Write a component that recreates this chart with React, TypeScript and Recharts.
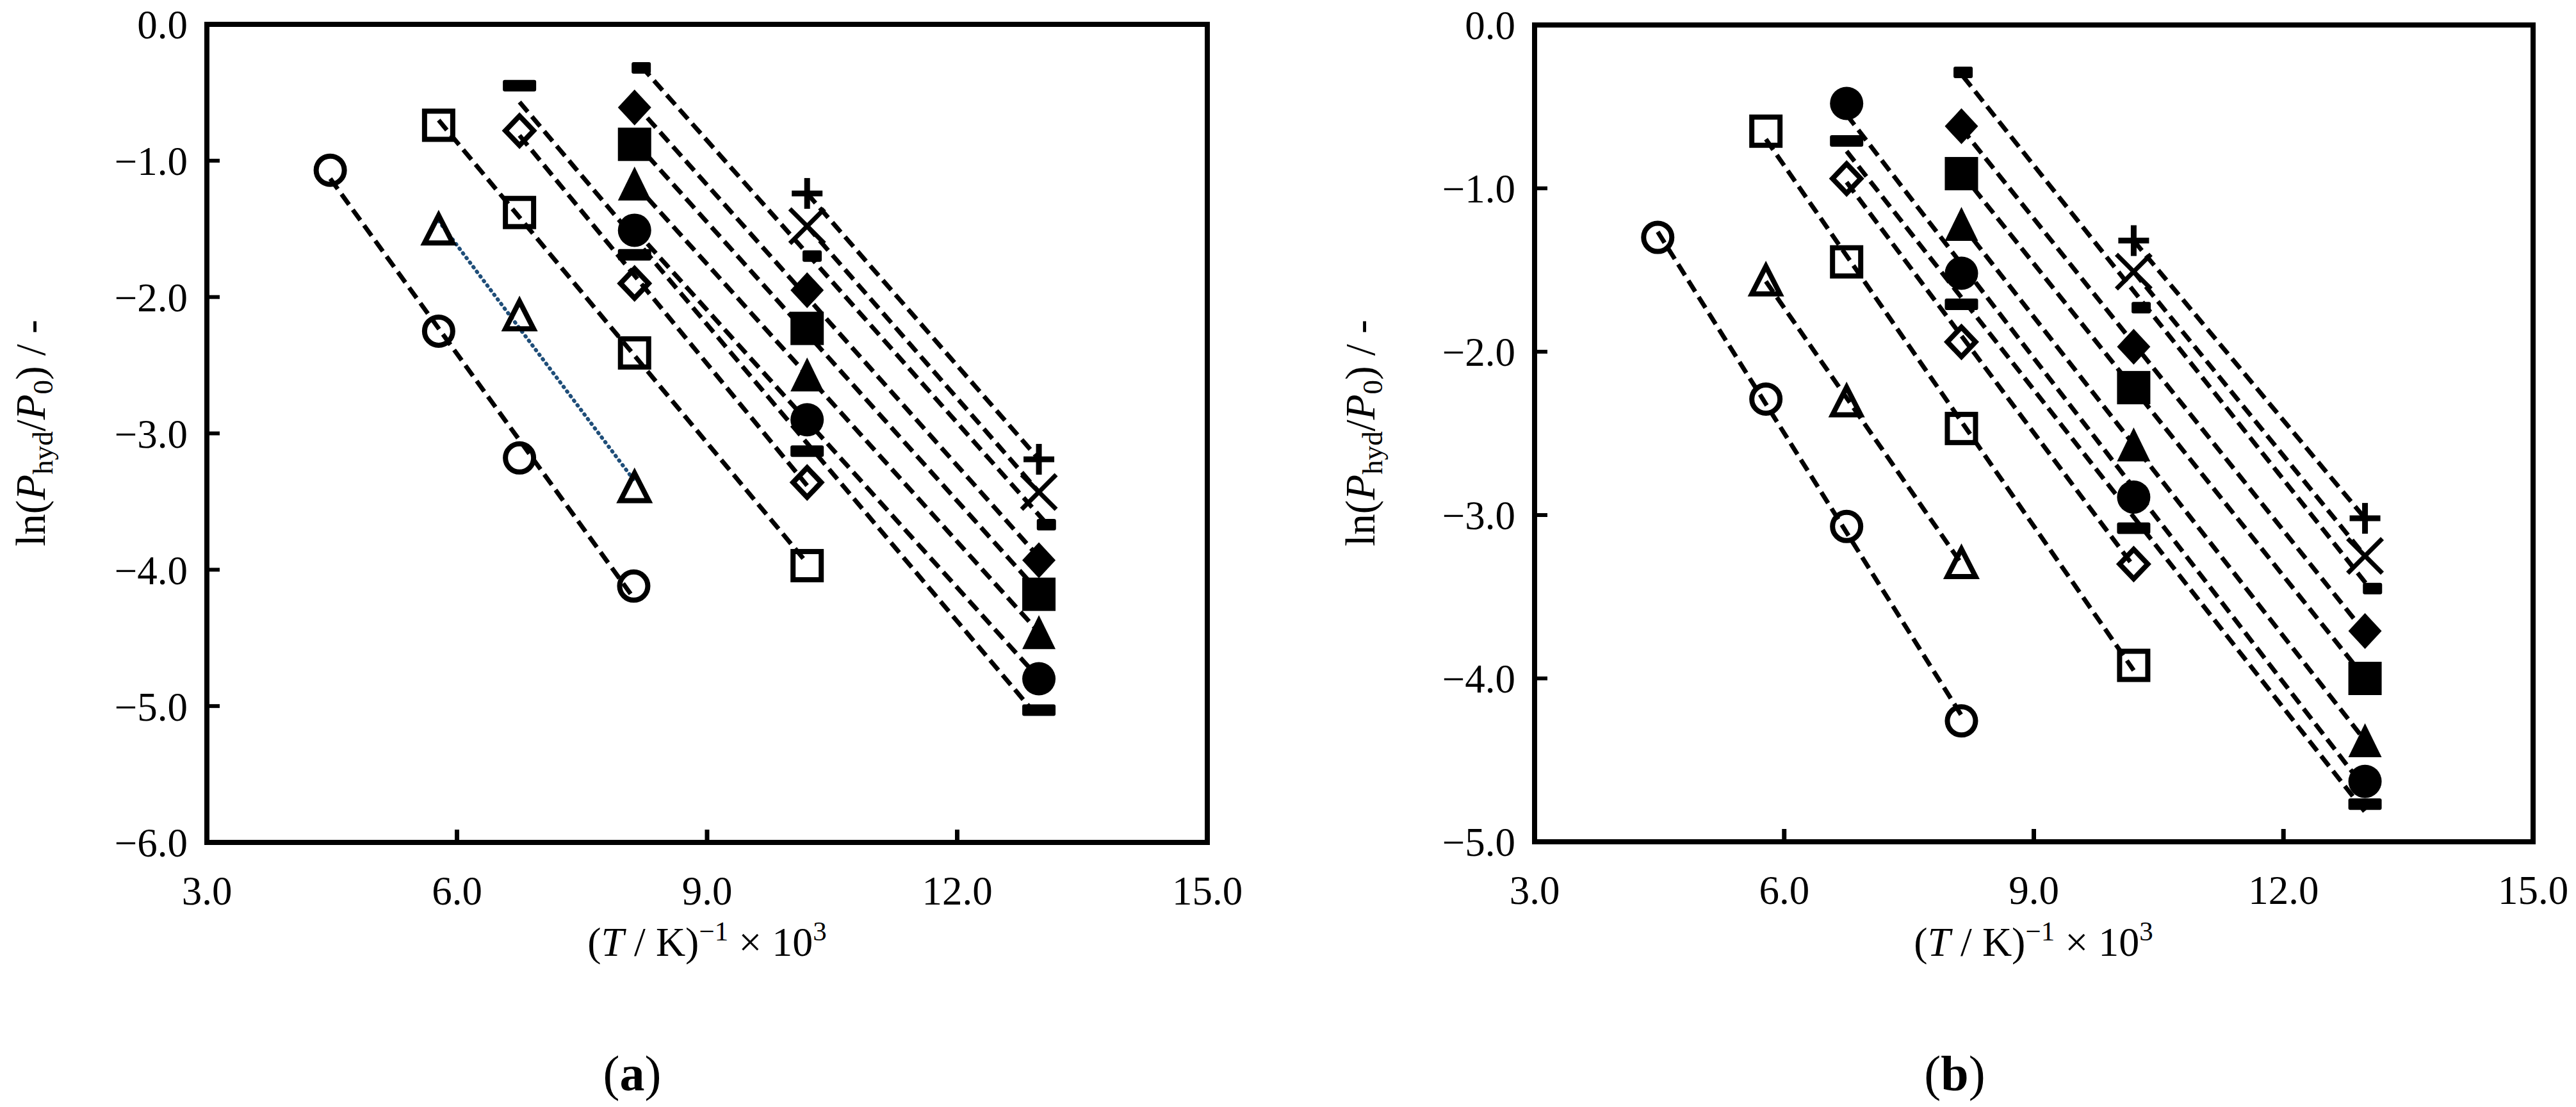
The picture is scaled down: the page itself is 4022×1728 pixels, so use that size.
import React from 'react';
import { ScatterChart, Scatter, XAxis, YAxis, ReferenceArea } from 'recharts';

// ---------- Panel (a) data: [x = (T/K)^-1 x 10^3, y = ln(Phyd/P0)] ----------
const A_openCircle = [[4.48, -1.07], [5.78, -2.25], [6.75, -3.18], [8.12, -4.12]];
const A_openTriangle = [[5.78, -1.5], [6.75, -2.13], [8.13, -3.39]];
const A_openSquare = [[5.78, -0.74], [6.75, -1.38], [8.13, -2.41], [10.2, -3.97]];
const A_openDiamond = [[6.75, -0.78], [8.13, -1.9], [10.2, -3.36]];
const A_dash = [[6.75, -0.45], [8.13, -1.69], [10.2, -3.13], [12.98, -5.03]];
const A_circle = [[8.13, -1.51], [10.2, -2.9], [12.98, -4.8]];
const A_triangle = [[8.13, -1.17], [10.2, -2.57], [12.98, -4.46]];
const A_square = [[8.13, -0.88], [10.2, -2.23], [12.98, -4.18]];
const A_diamond = [[8.13, -0.61], [10.2, -1.95], [12.98, -3.93]];
const A_smallDash = [[8.21, -0.32], [10.26, -1.7], [13.07, -3.67]];
const A_cross = [[10.2, -1.48], [12.98, -3.43]];
const A_plus = [[10.2, -1.24], [12.98, -3.19]];

// ---------- Panel (b) data ----------
const B_openCircle = [[4.48, -1.3], [5.78, -2.29], [6.75, -3.07], [8.13, -4.26]];
const B_openTriangle = [[5.78, -1.56], [6.75, -2.3], [8.13, -3.29]];
const B_openSquare = [[5.78, -0.65], [6.75, -1.45], [8.13, -2.47], [10.2, -3.92]];
const B_openDiamond = [[6.75, -0.94], [8.13, -1.94], [10.2, -3.3]];
const B_dash = [[6.75, -0.71], [8.13, -1.71], [10.2, -3.08], [12.98, -4.77]];
const B_circle = [[6.75, -0.48], [8.13, -1.52], [10.2, -2.89], [12.98, -4.63]];
const B_triangle = [[8.13, -1.22], [10.2, -2.57], [12.98, -4.38]];
const B_square = [[8.13, -0.91], [10.2, -2.22], [12.98, -4.0]];
const B_diamond = [[8.13, -0.62], [10.2, -1.97], [12.98, -3.71]];
const B_smallDash = [[8.15, -0.29], [10.29, -1.73], [13.07, -3.45]];
const B_cross = [[10.2, -1.51], [12.98, -3.25]];
const B_plus = [[10.2, -1.32], [12.98, -3.02]];

const X_TICKS = [3, 6, 9, 12, 15];
const A_Y_TICKS = [-6, -5, -4, -3, -2, -1, 0];
const B_Y_TICKS = [-5, -4, -3, -2, -1, 0];

const toPts = (arr: number[][]) => arr.map(([x, y]) => ({ x, y }));

const FONT = '"Liberation Serif", "DejaVu Serif", serif';
const BLACK = '#000';

type Kind =
  | 'circleOpen' | 'triangleOpen' | 'squareOpen' | 'diamondOpen'
  | 'circle' | 'triangle' | 'square' | 'diamond'
  | 'dash' | 'smallDash' | 'plus' | 'cross';

const makeShape = (kind: Kind) => (props: any) => {
  const { cx, cy } = props;
  if (cx == null || cy == null) return <g />;
  switch (kind) {
    case 'circleOpen':
      return <circle cx={cx} cy={cy} r={22} fill="none" stroke={BLACK} strokeWidth={8} />;
    case 'circle':
      return <circle cx={cx} cy={cy} r={26} fill={BLACK} />;
    case 'squareOpen':
      return <rect x={cx - 22} y={cy - 22} width={44} height={44} fill="none" stroke={BLACK} strokeWidth={8} />;
    case 'square':
      return <rect x={cx - 26} y={cy - 26} width={52} height={52} fill={BLACK} />;
    case 'triangleOpen':
      return (
        <polygon
          points={`${cx},${cy - 21} ${cx + 22},${cy + 22} ${cx - 22},${cy + 22}`}
          fill="none" stroke={BLACK} strokeWidth={8} strokeLinejoin="miter"
        />
      );
    case 'triangle':
      return <polygon points={`${cx},${cy - 27} ${cx + 26},${cy + 26} ${cx - 26},${cy + 26}`} fill={BLACK} />;
    case 'diamondOpen':
      return (
        <polygon
          points={`${cx},${cy - 23} ${cx + 22},${cy} ${cx},${cy + 23} ${cx - 22},${cy}`}
          fill="none" stroke={BLACK} strokeWidth={8}
        />
      );
    case 'diamond':
      return <polygon points={`${cx},${cy - 28} ${cx + 26},${cy} ${cx},${cy + 28} ${cx - 26},${cy}`} fill={BLACK} />;
    case 'dash':
      return <rect x={cx - 26} y={cy - 9} width={52} height={18} rx={3} fill={BLACK} />;
    case 'smallDash':
      return <rect x={cx - 15} y={cy - 9} width={30} height={18} rx={3} fill={BLACK} />;
    case 'plus':
      return (
        <g stroke={BLACK} strokeWidth={9}>
          <line x1={cx - 24} y1={cy} x2={cx + 24} y2={cy} />
          <line x1={cx} y1={cy - 24} x2={cx} y2={cy + 24} />
        </g>
      );
    case 'cross':
      return (
        <g stroke={BLACK} strokeWidth={7}>
          <line x1={cx - 27} y1={cy - 27} x2={cx + 27} y2={cy + 27} />
          <line x1={cx - 27} y1={cy + 27} x2={cx + 27} y2={cy - 27} />
        </g>
      );
    default:
      return <g />;
  }
};

const DASHED = { stroke: BLACK, strokeWidth: 7, strokeDasharray: '20 10' };
const DOTTED_BLUE = { stroke: '#1F4E79', strokeWidth: 6, strokeDasharray: '1 8', strokeLinecap: 'round' };

type Series = { data: number[][]; kind: Kind; line: any };

const A_SERIES: Series[] = [
  { data: A_openCircle, kind: 'circleOpen', line: DASHED },
  { data: A_openTriangle, kind: 'triangleOpen', line: DOTTED_BLUE },
  { data: A_openSquare, kind: 'squareOpen', line: DASHED },
  { data: A_openDiamond, kind: 'diamondOpen', line: DASHED },
  { data: A_dash, kind: 'dash', line: DASHED },
  { data: A_circle, kind: 'circle', line: DASHED },
  { data: A_triangle, kind: 'triangle', line: DASHED },
  { data: A_square, kind: 'square', line: DASHED },
  { data: A_diamond, kind: 'diamond', line: DASHED },
  { data: A_smallDash, kind: 'smallDash', line: DASHED },
  { data: A_cross, kind: 'cross', line: DASHED },
  { data: A_plus, kind: 'plus', line: DASHED },
];

const B_SERIES: Series[] = [
  { data: B_openCircle, kind: 'circleOpen', line: DASHED },
  { data: B_openTriangle, kind: 'triangleOpen', line: DASHED },
  { data: B_openSquare, kind: 'squareOpen', line: DASHED },
  { data: B_openDiamond, kind: 'diamondOpen', line: DASHED },
  { data: B_dash, kind: 'dash', line: DASHED },
  { data: B_circle, kind: 'circle', line: DASHED },
  { data: B_triangle, kind: 'triangle', line: DASHED },
  { data: B_square, kind: 'square', line: DASHED },
  { data: B_diamond, kind: 'diamond', line: DASHED },
  { data: B_smallDash, kind: 'smallDash', line: DASHED },
  { data: B_cross, kind: 'cross', line: DASHED },
  { data: B_plus, kind: 'plus', line: DASHED },
];

const fmtY = (v: number) => (v === 0 ? '0.0' : '\u2212' + Math.abs(v).toFixed(1));
const fmtX = (v: number) => v.toFixed(1);

const tickStyle = { fontSize: 63, fill: BLACK, fontFamily: FONT };

function Panel({
  series, yTicks, yMin, margin,
}: { series: Series[]; yTicks: number[]; yMin: number; margin: any }) {
  return (
    <ScatterChart width={2011} height={1728} margin={margin}>
      <XAxis
        type="number" dataKey="x" domain={[3, 15]} ticks={X_TICKS} tickFormatter={fmtX}
        allowDataOverflow height={100} axisLine={false}
        tickLine={{ stroke: BLACK, strokeWidth: 7 }} tickSize={-20} tickMargin={72}
        tick={tickStyle} interval={0}
      />
      <YAxis
        type="number" dataKey="y" domain={[yMin, 0]} ticks={yTicks} tickFormatter={fmtY}
        allowDataOverflow width={200} axisLine={false}
        tickLine={{ stroke: BLACK, strokeWidth: 6 }} tickSize={-20} tickMargin={50}
        tick={tickStyle} interval={0}
      />
      <ReferenceArea x1={3} x2={15} y1={yMin} y2={0} fill="none" stroke={BLACK} strokeWidth={8} />
      {series.map((s, i) => (
        <Scatter
          key={i}
          data={toPts(s.data)}
          line={s.line}
          lineType="fitting"
          shape={makeShape(s.kind)}
          isAnimationActive={false}
        />
      ))}
    </ScatterChart>
  );
}

function YTitle({ x, y }: { x: number; y: number }) {
  return (
    <text x={x} y={y} transform={`rotate(-90 ${x} ${y})`} textAnchor="middle" fontFamily={FONT} fontSize={65} fill={BLACK}>
      ln(<tspan fontStyle="italic">P</tspan>
      <tspan fontSize={45} dy={12}>hyd</tspan>
      <tspan dy={-12}>/</tspan>
      <tspan fontStyle="italic">P</tspan>
      <tspan fontSize={45} dy={12}>0</tspan>
      <tspan dy={-12}>) / -</tspan>
    </text>
  );
}

function XTitle({ x, y }: { x: number; y: number }) {
  return (
    <text x={x} y={y} textAnchor="middle" fontFamily={FONT} fontSize={64} fill={BLACK}>
      (<tspan fontStyle="italic">T</tspan> / K)
      <tspan fontSize={43} dy={-24}>{'\u22121'}</tspan>
      <tspan dy={24}>{' \u00d7 10'}</tspan>
      <tspan fontSize={43} dy={-24}>3</tspan>
    </text>
  );
}

function PanelLabel({ x, y, letter }: { x: number; y: number; letter: string }) {
  return (
    <text x={x} y={y} textAnchor="middle" fontFamily={FONT} fontSize={78} fill={BLACK}>
      (<tspan fontWeight="bold">{letter}</tspan>)
    </text>
  );
}

export default function App() {
  return (
    <div style={{ position: 'absolute', left: 0, top: 0, width: 4022, height: 1728, background: '#fff', overflow: 'hidden' }}>
      <div style={{ position: 'absolute', left: 0, top: 0 }}>
        <Panel series={A_SERIES} yTicks={A_Y_TICKS} yMin={-6} margin={{ top: 38, right: 126, bottom: 313, left: 123 }} />
      </div>
      <div style={{ position: 'absolute', left: 2011, top: 0 }}>
        <Panel series={B_SERIES} yTicks={B_Y_TICKS} yMin={-5} margin={{ top: 39, right: 67, bottom: 314, left: 185 }} />
      </div>
      <svg width={4022} height={1728} style={{ position: 'absolute', left: 0, top: 0, pointerEvents: 'none' }}>
        <YTitle x={70} y={676} />
        <YTitle x={2146} y={676} />
        <XTitle x={1104} y={1492} />
        <XTitle x={3175} y={1492} />
        <PanelLabel x={987} y={1702} letter="a" />
        <PanelLabel x={3052} y={1702} letter="b" />
      </svg>
    </div>
  );
}
